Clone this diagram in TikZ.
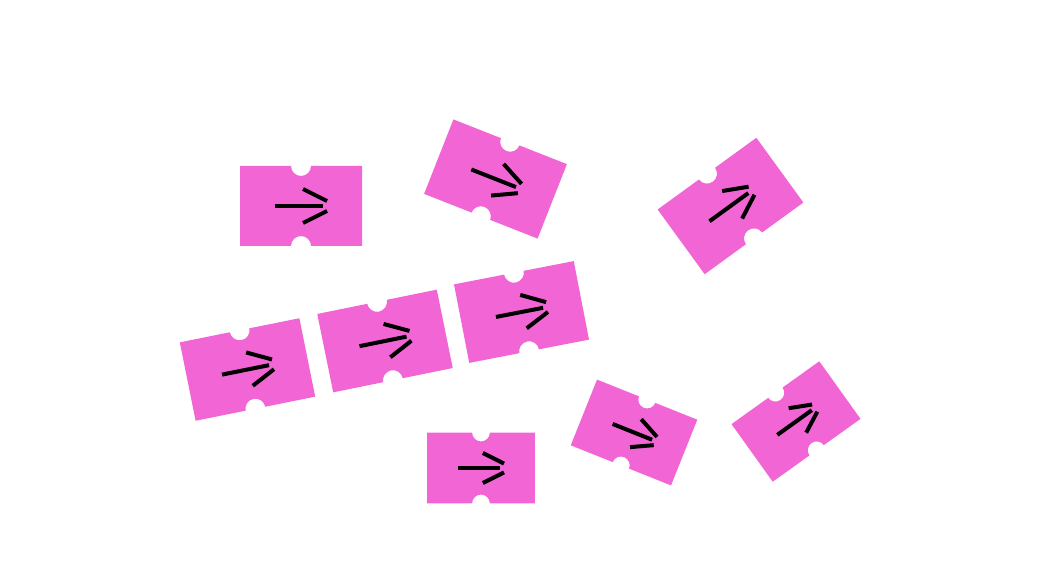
\documentclass[tikz,border=0pt]{standalone}
\usepackage{tikz}
\usepackage{xcolor}

\definecolor{tilepink}{RGB}{241,102,212}

\begin{document}
\begin{tikzpicture}[x=0.02cm, y=0.02cm,
    arrowstroke/.style={line width=0.08cm, black},
    tile/.pic={
        \fill[tilepink] (-61,-40) -- (-10,-40) arc[start angle=180, end angle=0, radius=10]
            -- (61,-40) -- (61,40) -- (10,40) arc[start angle=0, end angle=-180, radius=10]
            -- (-61,40) -- cycle;
        \draw[arrowstroke] (-26,0) -- (22,0);
        \draw[arrowstroke] (2,17) -- (26,5);
        \draw[arrowstroke] (2,-17) -- (26,-5);
    }]
    \useasboundingbox (0,0) rectangle (1044,582);

    \pic at (301,376) {tile};
    \pic[rotate=-21.5] at (495.5,403) {tile};
    \pic[rotate=36] at (730.5,376) {tile};
    \pic[rotate=11.4] at (247.5,212.5) {tile};
    \pic[rotate=11.5] at (385,241) {tile};
    \pic[rotate=11] at (521.5,270) {tile};
    \pic[scale=0.885] at (481,114) {tile};
    \pic[rotate=-21.8, scale=0.885] at (634,149.5) {tile};
    \pic[rotate=35.6, scale=0.885] at (796,160.5) {tile};
\end{tikzpicture}
\end{document}
